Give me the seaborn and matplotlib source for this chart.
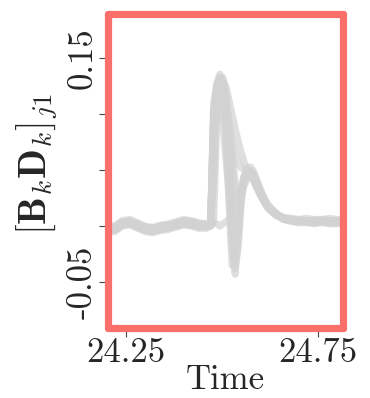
import matplotlib
matplotlib.use("Agg")
import matplotlib.pyplot as plt
import pandas as pd
import seaborn as sns

# sample times (s)
time = [24.20, 24.22, 24.24, 24.26, 24.28, 24.30, 24.32, 24.34, 24.36, 24.38,
        24.40, 24.42, 24.44, 24.46,
        24.47, 24.478, 24.486, 24.494, 24.502, 24.51, 24.518, 24.526, 24.534, 24.542,
        24.55, 24.558, 24.566, 24.574, 24.582, 24.59, 24.60, 24.61, 24.62, 24.64,
        24.66, 24.68, 24.70, 24.72, 24.74, 24.76, 24.78, 24.80, 24.82]

trace_1 = [-0.001, -0.002, 0.003, 0.004, 0.001, -0.002, -0.003, -0.001, 0.000, 0.002,
           0.004, 0.003, 0.001, 0.001,
           0.002, 0.110, 0.128, 0.136, 0.128, 0.080, 0.020, -0.035, -0.030, 0.010,
           0.035, 0.046, 0.050, 0.050, 0.046, 0.040, 0.031, 0.024, 0.018, 0.011,
           0.007, 0.005, 0.004, 0.005, 0.005, 0.004, 0.005, 0.004, 0.004]
trace_2 = [-0.004, -0.005, 0.000, 0.001, -0.002, -0.005, -0.006, -0.004, -0.003, -0.001,
           0.001, 0.000, -0.002, -0.002,
           0.001, 0.100, 0.122, 0.130, 0.130, 0.125, 0.113, 0.100, 0.088, 0.076,
           0.066, 0.057, 0.050, 0.046, 0.040, 0.034, 0.027, 0.021, 0.016, 0.010,
           0.006, 0.004, 0.003, 0.003, 0.002, 0.003, 0.002, 0.002, 0.003]
trace_3 = [0.001, 0.000, 0.005, 0.006, 0.003, 0.000, -0.001, 0.001, 0.002, 0.004,
           0.006, 0.005, 0.003, 0.002,
           0.000, 0.003, 0.090, 0.115, 0.120, 0.100, 0.040, -0.020, -0.043, -0.010,
           0.030, 0.045, 0.049, 0.048, 0.044, 0.037, 0.030, 0.023, 0.017, 0.010,
           0.008, 0.007, 0.006, 0.007, 0.006, 0.006, 0.007, 0.006, 0.006]
trace_4 = [-0.003, -0.003, 0.001, 0.002, 0.000, -0.002, -0.003, -0.002, -0.001, 0.000,
           0.002, 0.002, 0.001, 0.000,
           0.003, 0.105, 0.118, 0.110, 0.090, 0.060, 0.030, 0.000, -0.015, 0.000,
           0.025, 0.040, 0.046, 0.047, 0.043, 0.036, 0.028, 0.022, 0.016, 0.010,
           0.006, 0.005, 0.005, 0.004, 0.004, 0.005, 0.004, 0.005, 0.005]
trace_5 = [0.000, -0.001, 0.004, 0.004, 0.002, -0.001, -0.002, 0.000, 0.001, 0.003,
           0.005, 0.004, 0.002, 0.001,
           0.002, 0.003, 0.002, 0.000, 0.002, 0.004, 0.006, 0.010, 0.015, 0.022,
           0.030, 0.037, 0.042, 0.044, 0.042, 0.036, 0.029, 0.022, 0.016, 0.010,
           0.007, 0.006, 0.005, 0.005, 0.004, 0.005, 0.005, 0.004, 0.005]
trace_6 = [-0.002, -0.004, 0.001, 0.003, -0.001, -0.004, -0.005, -0.003, -0.002, 0.000,
           0.002, 0.001, -0.001, -0.001,
           0.000, 0.060, 0.118, 0.130, 0.133, 0.120, 0.070, 0.000, -0.038, -0.020,
           0.020, 0.042, 0.052, 0.053, 0.049, 0.042, 0.033, 0.025, 0.019, 0.012,
           0.007, 0.005, 0.004, 0.004, 0.003, 0.004, 0.003, 0.003, 0.004]
trace_7 = [0.000, -0.002, 0.003, 0.005, 0.002, -0.001, -0.002, 0.000, 0.001, 0.002,
           0.004, 0.004, 0.002, 0.002,
           0.000, 0.080, 0.105, 0.112, 0.110, 0.100, 0.088, 0.075, 0.064, 0.056,
           0.052, 0.051, 0.050, 0.048, 0.044, 0.037, 0.029, 0.022, 0.016, 0.010,
           0.007, 0.006, 0.006, 0.005, 0.005, 0.006, 0.005, 0.005, 0.006]
trace_8 = [-0.003, -0.003, 0.002, 0.002, -0.001, -0.003, -0.004, -0.003, -0.001, 0.001,
           0.002, 0.001, -0.001, 0.000,
           0.000, 0.095, 0.125, 0.132, 0.120, 0.090, 0.050, 0.010, -0.020, -0.005,
           0.028, 0.043, 0.048, 0.049, 0.045, 0.038, 0.030, 0.023, 0.017, 0.011,
           0.006, 0.005, 0.005, 0.004, 0.004, 0.004, 0.004, 0.004, 0.005]
trace_9 = [-0.001, -0.003, 0.002, 0.003, 0.000, -0.003, -0.003, -0.002, 0.000, 0.001,
           0.003, 0.002, 0.000, 0.000,
           0.001, 0.098, 0.124, 0.133, 0.126, 0.108, 0.080, 0.050, 0.028, 0.022,
           0.030, 0.042, 0.048, 0.049, 0.045, 0.038, 0.030, 0.023, 0.017, 0.011,
           0.007, 0.005, 0.004, 0.005, 0.004, 0.004, 0.005, 0.004, 0.004]
trace_10 = [-0.002, -0.002, 0.002, 0.004, 0.001, -0.002, -0.004, -0.002, -0.001, 0.001,
            0.003, 0.003, 0.001, 0.001,
            0.001, 0.040, 0.112, 0.125, 0.127, 0.115, 0.095, 0.068, 0.040, 0.020,
            0.028, 0.042, 0.049, 0.050, 0.046, 0.039, 0.031, 0.024, 0.018, 0.011,
            0.006, 0.005, 0.004, 0.004, 0.004, 0.005, 0.004, 0.004, 0.004]

traces = [trace_1, trace_2, trace_3, trace_4, trace_5,
          trace_6, trace_7, trace_8, trace_9, trace_10]

x_ticks = [24.25, 24.75]
x_tick_labels = ["24.25", "24.75"]
y_ticks = [-0.05, 0.0, 0.05, 0.10, 0.15]
y_tick_labels = ["-0.05", "", "", "", "0.15"]

rows = []
for i, tr in enumerate(traces):
    for t, v in zip(time, tr):
        rows.append([i, t, v])
df = pd.DataFrame(rows, columns=["trace", "time", "value"])

sns.set_style("white")
plt.rcParams["mathtext.fontset"] = "cm"
plt.rcParams["font.family"] = ["cmr10", "DejaVu Serif"]
plt.rcParams["axes.unicode_minus"] = False

fig = plt.figure(figsize=(3.7, 3.98), dpi=100)
ax = fig.add_axes([0.292, 0.176, 0.635, 0.790])

sns.lineplot(data=df, x="time", y="value", units="trace", estimator=None,
             color="#d2d2d2", linewidth=5, alpha=0.7, ax=ax, legend=False)

ax.set_xlim(24.203, 24.815)
ax.set_ylim(-0.091, 0.19)

ax.set_xticks(x_ticks)
ax.set_xticklabels(x_tick_labels, fontsize=25)
ax.set_yticks(y_ticks)
ax.set_yticklabels(y_tick_labels, fontsize=25, rotation=90, va="center")
ax.tick_params(direction="out", length=6.5, width=0.8, color="#444444", pad=0,
               left=True, bottom=True)

ax.set_xlabel("Time", fontsize=25, labelpad=-3)
ax.set_ylabel(r"$[\mathbf{B}_k\mathbf{D}_k]_{j1}$", fontsize=28)
ax.yaxis.set_label_coords(-0.205, 0.52)

for s in ax.spines.values():
    s.set_visible(True)
    s.set_color("#fb6f6b")
    s.set_linewidth(5.2)
    s.set_capstyle("round")
    s.set_joinstyle("round")

plt.savefig("out.png", dpi=100)
